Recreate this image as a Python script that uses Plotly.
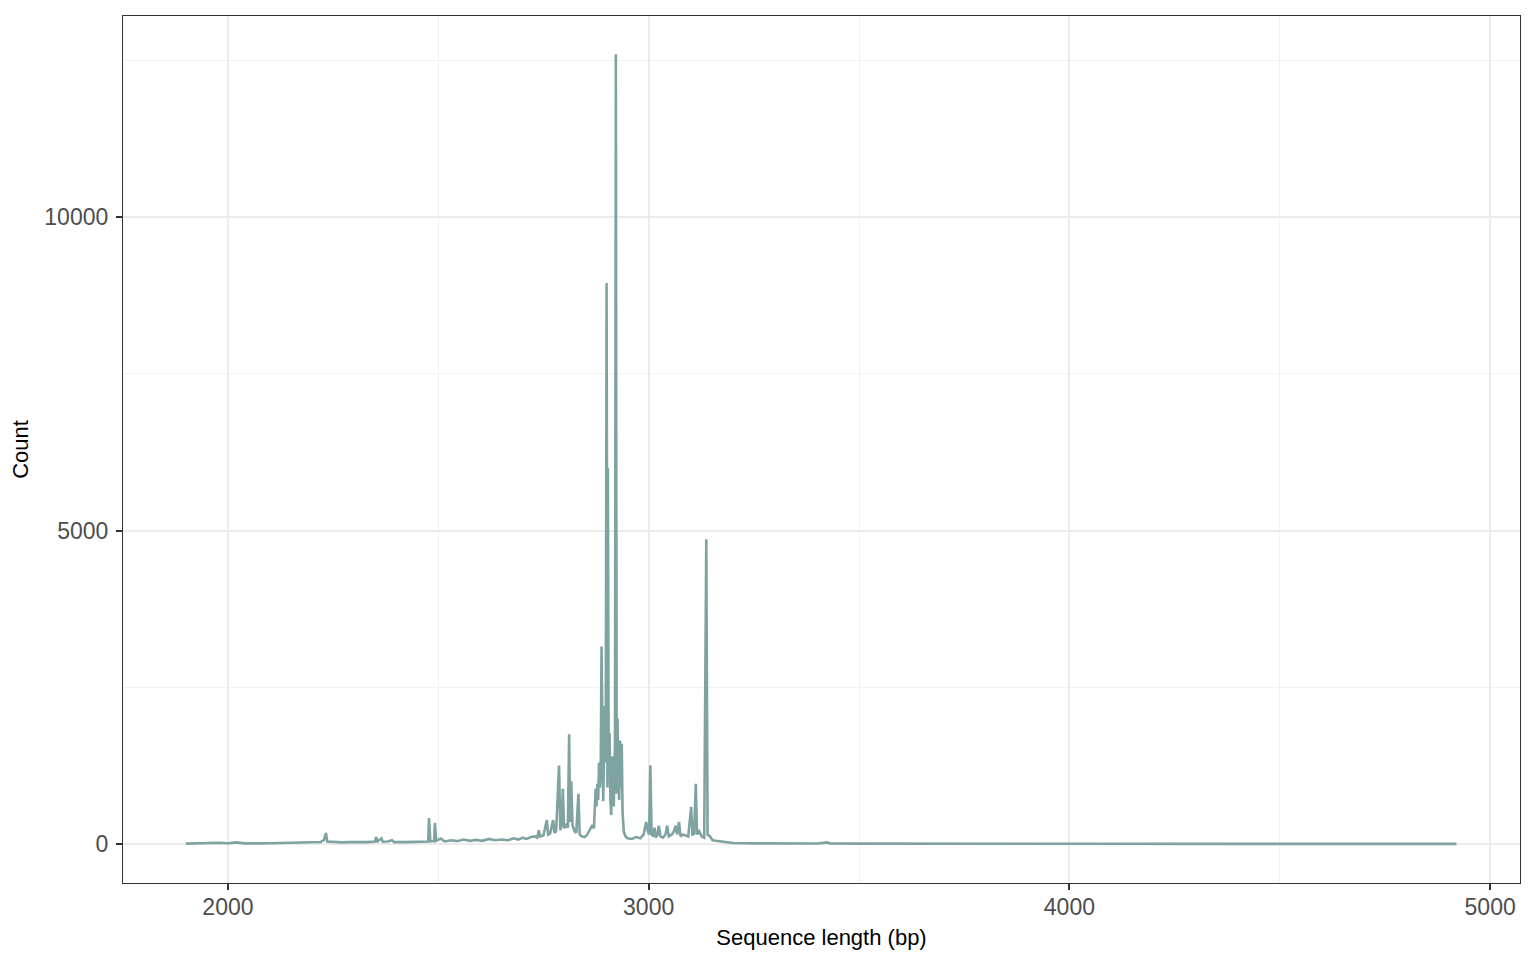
import plotly.graph_objects as go

# Sequence length (bp) and read counts
seq_length = [
    1900, 1920, 1940, 1960, 1980, 2000, 2020, 2040, 2060, 2080, 2100, 2120, 2140, 2160, 2180,
    2200, 2220, 2228, 2233, 2236, 2250, 2270, 2290, 2310, 2330, 2350, 2352, 2356, 2365, 2368,
    2380, 2390, 2395, 2420, 2440, 2460, 2476, 2478, 2481, 2490, 2492, 2495, 2506, 2515, 2530,
    2545, 2560, 2575, 2590, 2605, 2620, 2635, 2650, 2665, 2680, 2690, 2700, 2710, 2720, 2730,
    2735, 2739, 2742, 2750, 2758, 2761, 2766, 2773, 2776, 2780, 2787, 2790, 2793, 2796, 2799,
    2804, 2808, 2811, 2813, 2816, 2819, 2824, 2828, 2833, 2836, 2842, 2848, 2854, 2860, 2866,
    2870, 2874, 2876, 2878, 2880, 2882, 2884, 2886, 2888, 2890, 2892, 2894, 2896, 2898, 2900,
    2902, 2903, 2905, 2907, 2909, 2911, 2913, 2915, 2917, 2920, 2922, 2924, 2926, 2928, 2930,
    2932, 2934, 2936, 2938, 2941, 2945, 2950, 2960, 2970, 2980, 2988, 2994, 2998, 3001, 3004,
    3007, 3011, 3014, 3017, 3021, 3024, 3028, 3034, 3040, 3044, 3048, 3055, 3060, 3064, 3068,
    3072, 3076, 3082, 3088, 3094, 3101, 3104, 3108, 3112, 3115, 3120, 3126, 3132, 3137, 3140,
    3146, 3152, 3160, 3170, 3185, 3200, 3250, 3300, 3350, 3400, 3425, 3430, 3500, 3600, 3700,
    3800, 3900, 4000, 4200, 4400, 4600, 4800, 4920,
]
read_count = [
    5, 10, 15, 8, 20, 12, 25, 10, 15, 10, 12, 15, 20, 12, 15,
    20, 30, 60, 175, 40, 30, 25, 30, 25, 30, 40, 110, 40, 90, 35,
    40, 60, 30, 30, 35, 40, 40, 415, 40, 45, 335, 50, 85, 40, 60,
    45, 70, 50, 65, 50, 80, 60, 70, 60, 90, 70, 100, 80, 110, 120,
    100, 220, 120, 140, 380, 150, 170, 380, 180, 200, 1250, 220, 300, 880, 250,
    300, 260, 1750, 350, 1000, 300, 200, 180, 800, 150, 120, 110, 150, 220, 300,
    250, 880, 600, 960, 700, 1300, 900, 1100, 3150, 1200, 680, 1500, 2200, 1300, 8950,
    900, 6000, 1200, 1770, 700, 460, 1400, 1100, 600, 1600, 12600, 800, 2000, 900, 700,
    1650, 900, 1600, 500, 190, 120, 90, 80, 110, 90, 150, 350, 200, 150, 1257,
    150, 120, 260, 100, 150, 290, 120, 100, 150, 290, 120, 150, 200, 290, 150,
    350, 120, 150, 140, 120, 590, 150, 160, 960, 150, 200, 120, 100, 4860, 150,
    120, 60, 50, 40, 25, 15, 10, 8, 12, 8, 25, 8, 5, 6, 4,
    5, 3, 4, 3, 2, 2, 1, 1,
]

x_ticks = [2000, 3000, 4000, 5000]
y_ticks = [0, 5000, 10000]

FONT = "Liberation Sans, Arial, sans-serif"

fig = go.Figure()
fig.add_trace(go.Scatter(
    x=seq_length, y=read_count, mode="lines",
    line=dict(color="#7FA3A1", width=2.6),
    showlegend=False, hoverinfo="x+y",
))

axis_common = dict(
    showline=True, linecolor="#333333", linewidth=1.2, mirror=True,
    ticks="outside", ticklen=6, tickwidth=1.5, tickcolor="#333333",
    gridcolor="#EBEBEB", gridwidth=2,
    minor=dict(showgrid=True, gridcolor="#F2F2F2", gridwidth=1, ticks=""),
    zeroline=False,
    tickfont=dict(family=FONT, size=23, color="#4D4D4D"),
    title_font=dict(family=FONT, size=22, color="#000000"),
)

fig.update_xaxes(
    **axis_common, range=[1750.6, 5071], tickvals=x_ticks,
    ticktext=[str(v) for v in x_ticks], ticklabelstandoff=-3,
    title_text="Sequence length (bp)", title_standoff=10,
)
fig.update_xaxes(minor=dict(tickvals=[2500, 3500, 4500]))
fig.update_yaxes(
    **axis_common, range=[-623, 13211], tickvals=y_ticks,
    ticktext=[str(v) for v in y_ticks], ticklabelstandoff=3,
    title_text="Count", title_standoff=14,
)
fig.update_yaxes(minor=dict(tickvals=[2500, 7500, 12500]))

fig.update_layout(
    width=1520, height=944,
    margin=dict(l=114, r=8, t=7, b=66),
    plot_bgcolor="white", paper_bgcolor="white",
    font=dict(family=FONT),
)

fig.write_html("out.html")
